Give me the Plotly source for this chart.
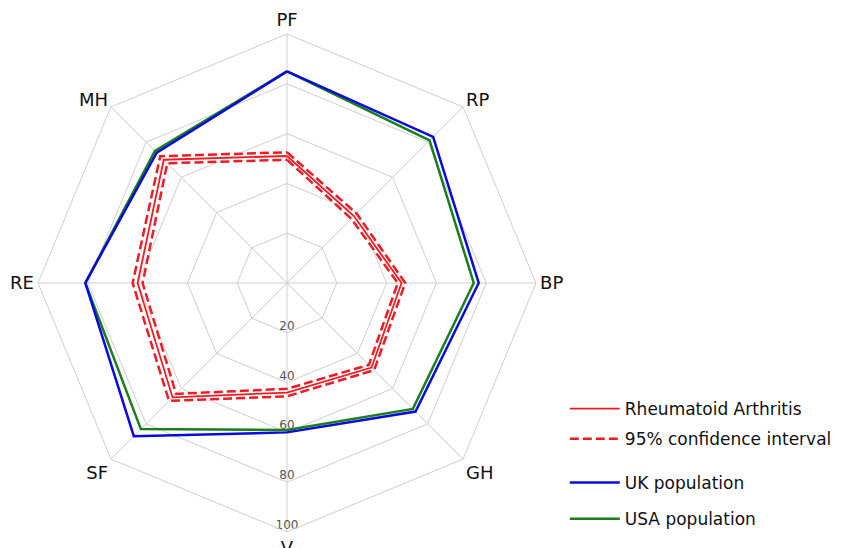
import plotly.graph_objects as go

categories = ["PF", "RP", "BP", "GH", "V", "SF", "RE", "MH"]
ra_values = [51, 38, 46, 48, 44, 65, 60, 70]
ra_lower = [49.5, 36.5, 44.5, 46.5, 42.5, 63, 58, 68]
ra_upper = [52.5, 39.5, 47.5, 49.5, 45.5, 67, 62, 72]
uk_values = [85, 83, 77, 73, 60, 87, 81, 74]
usa_values = [85, 81, 75, 71.5, 59, 83, 81, 75]
radial_ticks = [20, 40, 60, 80, 100]
radial_tick_labels = ["20", "40", "60", "80", "100"]

def closed(v):
    return list(v) + [v[0]]

theta = closed(categories)

RED = "#ee1c24"
BLUE = "#0a0ae0"
GREEN = "#1a7f1a"
FONT = "DejaVu Sans"

fig = go.Figure()

fig.add_trace(go.Scatterpolar(r=closed(usa_values), theta=theta, mode="lines",
                              line=dict(color=GREEN, width=2.5), name="USA population",
                              legend="legend2", legendgroup="usa", legendrank=2))
fig.add_trace(go.Scatterpolar(r=closed(uk_values), theta=theta, mode="lines",
                              line=dict(color=BLUE, width=2.5), name="UK population",
                              legend="legend2", legendgroup="uk", legendrank=1))
fig.add_trace(go.Scatterpolar(r=closed(ra_upper), theta=theta, mode="lines",
                              line=dict(color=RED, width=2.5, dash="9px,4px"),
                              name="95% confidence interval", legend="legend",
                              legendgroup="ci", legendrank=2))
fig.add_trace(go.Scatterpolar(r=closed(ra_lower), theta=theta, mode="lines",
                              line=dict(color=RED, width=2.5, dash="9px,4px"),
                              name="95% confidence interval", legendgroup="ci",
                              showlegend=False))
fig.add_trace(go.Scatterpolar(r=closed(ra_values), theta=theta, mode="lines",
                              line=dict(color=RED, width=1.8), name="Rheumatoid Arthritis",
                              legend="legend", legendgroup="ra", legendrank=1))
# radial tick labels, centred on the V spoke
fig.add_trace(go.Scatterpolar(r=radial_ticks, theta=["V"] * len(radial_ticks),
                              mode="text", text=radial_tick_labels,
                              textposition="top center",
                              textfont=dict(size=12, family=FONT, color="#555"),
                              showlegend=False, hoverinfo="skip"))

GRID = "#cfcfcf"
fig.update_layout(
    width=843, height=548,
    margin=dict(l=0, r=0, t=0, b=0),
    paper_bgcolor="white",
    font=dict(family=FONT, color="#111"),
    polar=dict(
        domain=dict(x=[0.0451, 0.6358], y=[0.0292, 0.938]),
        bgcolor="white",
        gridshape="linear",
        angularaxis=dict(direction="clockwise", rotation=90, categoryorder="array",
                         categoryarray=categories,
                         showline=True, linecolor=GRID, linewidth=1,
                         gridcolor=GRID, gridwidth=1, ticks="",
                         tickfont=dict(size=18, family=FONT, color="#111")),
        radialaxis=dict(range=[0, 100], tickvals=radial_ticks, angle=-90,
                        showticklabels=False,
                        showline=False, gridcolor=GRID, gridwidth=1, ticks=""),
    ),
    legend=dict(x=0.67, y=0.166, xanchor="left", yanchor="bottom",
                traceorder="grouped", tracegroupgap=5, itemwidth=50,
                font=dict(size=17, family=FONT, color="#111"), bgcolor="rgba(0,0,0,0)"),
    legend2=dict(x=0.67, y=0.02, xanchor="left", yanchor="bottom",
                 traceorder="grouped", tracegroupgap=11, itemwidth=50,
                 font=dict(size=17, family=FONT, color="#111"), bgcolor="rgba(0,0,0,0)"),
)

fig.write_html("out.html", config={"displayModeBar": False},
               post_script="document.body.style.margin='0px';")
